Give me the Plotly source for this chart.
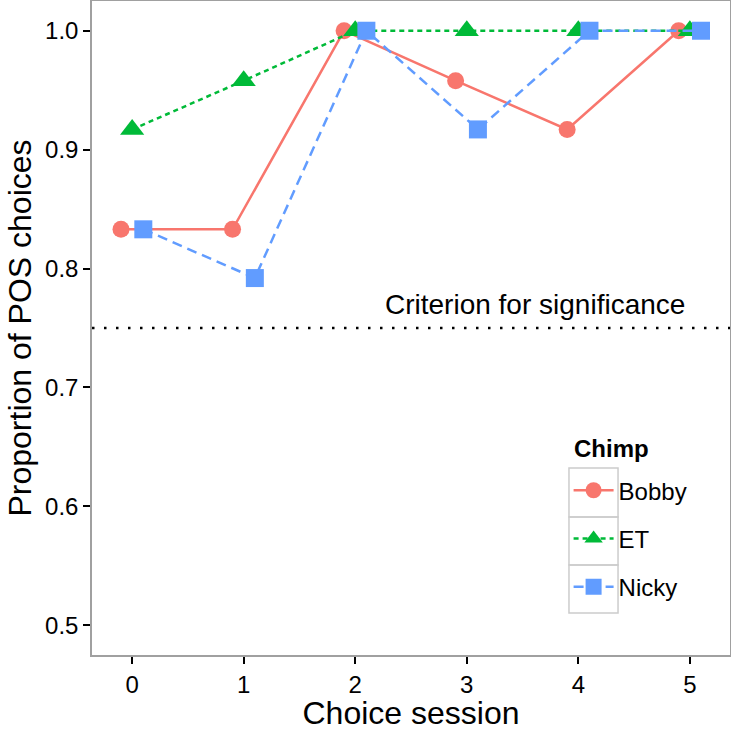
import plotly.graph_objects as go

sessions = [0, 1, 2, 3, 4, 5]
chimps = ["Bobby", "ET", "Nicky"]
bobby = [0.833, 0.833, 1.0, 0.958, 0.917, 1.0]
et = [0.917, 0.958, 1.0, 1.0, 1.0, 1.0]
nicky = [0.833, 0.792, 1.0, 0.917, 1.0, 1.0]
dodge = [-0.1, 0.0, 0.1]
colors = ["#F8766D", "#00BA38", "#619CFF"]
dashes = ["solid", "5px,4px", "10px,6px"]
symbols = ["circle", "triangle-up", "square"]
sizes = [17, 21, 18]
criterion = 0.75
criterion_label = "Criterion for significance"
legend_title = "Chimp"
yticks = [0.5, 0.6, 0.7, 0.8, 0.9, 1.0]

FONT = "Liberation Sans, Arial, sans-serif"

fig = go.Figure()
for name, vals, dx, c, d, s, sz in zip(chimps, [bobby, et, nicky], dodge, colors, dashes, symbols, sizes):
    fig.add_trace(go.Scatter(
        x=[v + dx for v in sessions], y=vals, name=name, legendgroup=name,
        mode="lines+markers",
        line=dict(color=c, width=2.5, dash=d),
        marker=dict(symbol=s, size=sz, color=c, line=dict(width=0)),
    ))

fig.add_hline(y=criterion, line=dict(color="black", width=2.5, dash="2.5px,9.5px"), layer="below")
fig.add_annotation(x=3.61, y=criterion, yshift=24, text=criterion_label, showarrow=False,
                   font=dict(size=28, color="black", family=FONT))

# legend title and key boxes (ggplot-style)
fig.add_annotation(xref="paper", yref="paper", x=0.752, y=0.315, xanchor="left", yanchor="middle",
                   text=f"<b>{legend_title}</b>", showarrow=False,
                   font=dict(size=24, color="black", family=FONT))
key_x0, key_x1 = 0.7476, 0.8245
key_edges = [0.2859, 0.2110, 0.1376, 0.0642]
for top, bottom in zip(key_edges[:-1], key_edges[1:]):
    fig.add_shape(type="rect", xref="paper", yref="paper", x0=key_x0, x1=key_x1,
                  y0=bottom, y1=top, line=dict(color="#cccccc", width=1.5),
                  fillcolor="rgba(0,0,0,0)", layer="below")

axis_common = dict(showgrid=False, zeroline=False, showline=True, mirror=True,
                   linecolor="#a0a0a0", linewidth=1.5, ticks="outside", ticklen=7,
                   tickcolor="black", tickwidth=2,
                   tickfont=dict(size=24, color="black", family=FONT))

fig.update_layout(
    width=731, height=731,
    paper_bgcolor="white", plot_bgcolor="white",
    margin=dict(l=92, r=1, t=1, b=76, autoexpand=False),
    font=dict(family=FONT, color="black"),
    xaxis=dict(range=[-0.36, 5.36], tickvals=sessions, ticktext=[str(s) for s in sessions],
               title=dict(text="Choice session", font=dict(size=32), standoff=6), **axis_common),
    yaxis=dict(range=[0.475, 1.025], tickvals=yticks,
               ticktext=[f"{v:.1f}" for v in yticks],
               title=dict(text="Proportion of POS choices", font=dict(size=32), standoff=4), **axis_common),
    legend=dict(x=0.747, y=0.2857, xanchor="left", yanchor="top",
                font=dict(size=24), bgcolor="rgba(0,0,0,0)", itemwidth=40,
                tracegroupgap=14),
    showlegend=True,
)

fig.write_html("out.html", config={"displayModeBar": False},
               post_script="document.body.style.margin='0';")
